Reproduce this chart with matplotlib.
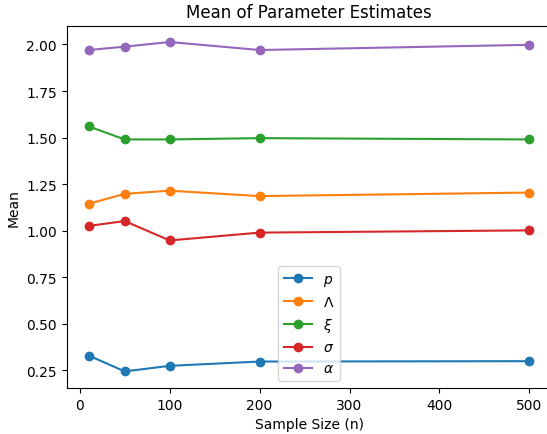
import matplotlib
matplotlib.use("Agg")
import matplotlib.pyplot as plt

# sample sizes and mean estimates per parameter
sample_sizes = [10, 50, 100, 200, 500]
mean_p = [0.33, 0.245, 0.275, 0.298, 0.30]
mean_lambda = [1.145, 1.198, 1.215, 1.186, 1.205]
mean_xi = [1.56, 1.49, 1.49, 1.497, 1.49]
mean_sigma = [1.026, 1.052, 0.948, 0.99, 1.002]
mean_alpha = [1.97, 1.988, 2.013, 1.97, 1.998]

labels = [r'$p$', r'$\Lambda$', r'$\xi$', r'$\sigma$', r'$\alpha$']
series = [mean_p, mean_lambda, mean_xi, mean_sigma, mean_alpha]

fig, ax = plt.subplots(figsize=(5.47, 4.35), dpi=100)

for vals, lab in zip(series, labels):
    ax.plot(sample_sizes, vals, marker='o', label=lab)

ax.set_title("Mean of Parameter Estimates")
ax.set_xlabel("Sample Size (n)")
ax.set_ylabel("Mean")
ax.legend()

# the original image is cropped on the right, so the axes run past the edge
fig.subplots_adjust(left=0.122, right=1.008, top=0.939, bottom=0.106)
plt.savefig("out.png")
